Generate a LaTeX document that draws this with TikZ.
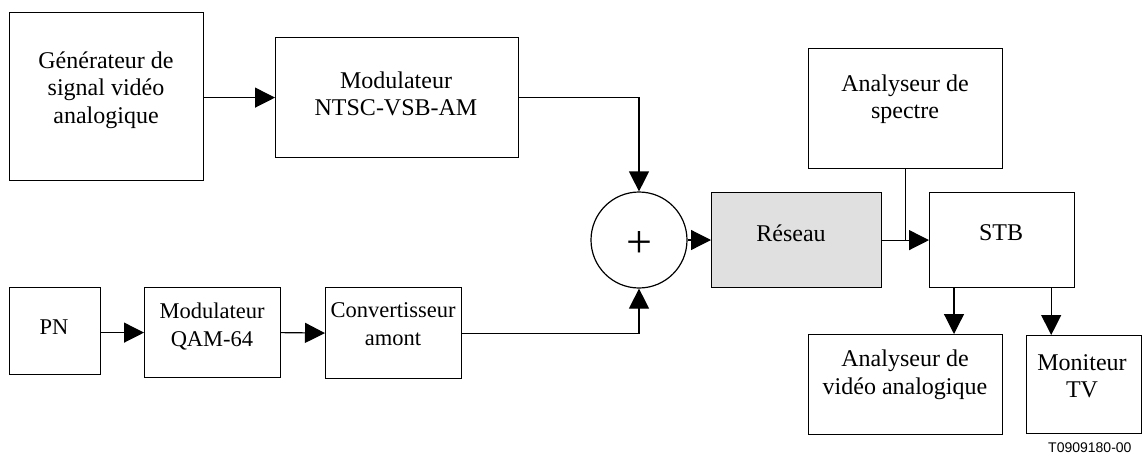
\documentclass[tikz,border=0pt]{standalone}
\usepackage{fontspec}
\setmainfont{Liberation Serif}
\newfontfamily\labelfont{Liberation Sans}
\usetikzlibrary{arrows.meta}
\tikzset{
  blk/.style={draw, line width=1.2pt, inner sep=0pt, anchor=north west},
  txt/.style={align=center, inner sep=0pt, font=\fontsize{24}{27.5}\selectfont},
  txts/.style={align=center, inner sep=0pt, font=\fontsize{22.5}{28}\selectfont},
  conn/.style={line width=1.2pt, -{Triangle[length=20pt,width=20pt]}},
  wire/.style={line width=1.2pt},
}
\begin{document}
\begin{tikzpicture}[x=1pt,y=-1pt]
\useasboundingbox (0,0) rectangle (1142,456);
% boxes
\node[blk, minimum width=194pt, minimum height=168pt] (gen) at (9,12) {};
\node[blk, minimum width=243pt, minimum height=120pt] (ntsc) at (275,37) {};
\node[blk, minimum width=91pt, minimum height=87pt] (pn) at (9,287) {};
\node[blk, minimum width=136pt, minimum height=90pt] (qam) at (144,287) {};
\node[blk, minimum width=136pt, minimum height=91pt] (conv) at (325,287) {};
\node[draw, line width=1.2pt, circle, minimum size=96pt, inner sep=0pt] (sum) at (639,240) {};
\node[blk, fill=black!12, minimum width=170pt, minimum height=95pt] (res) at (711,192) {};
\node[blk, minimum width=194pt, minimum height=120pt] (spec) at (808,48) {};
\node[blk, minimum width=145pt, minimum height=95pt] (stb) at (929,192) {};
\node[blk, minimum width=194pt, minimum height=100pt] (ana) at (808,334) {};
\node[blk, minimum width=115pt, minimum height=98pt] (mon) at (1026,335) {};
% texts
\node[txt] (genT) at (106,90) {Générateur de\\signal vidéo\\analogique};
\node[txt] (ntscT) at (396,94) {Modulateur\\NTSC-VSB-AM};
\node[txts] (pnT) at (54,327) {PN};
\node[txts] (qamT) at (212,327) {Modulateur\\QAM-64};
\node[txts] (convT) at (393,324) {Convertisseur\\amont};
\node[inner sep=0pt, font=\fontsize{46}{46}\selectfont] (plus) at (639,244) {+};
\node[txt] (resT) at (791,233) {Réseau};
\node[txt] (specT) at (905,99) {Analyseur de\\spectre};
\node[txt] (stbT) at (1001,233) {STB};
\node[txt] (anaT) at (905,375) {Analyseur de\\vidéo analogique};
\node[txt] (monT) at (1082,376) {Moniteur\\TV};
\node[anchor=base west, inner sep=0pt, font=\labelfont\fontsize{14}{14}\selectfont] (ref) at (1048,452) {T0909180-00};
% connectors
\draw[conn] (ntsc.west -| gen.east) -- (ntsc.west);
\draw[conn] (ntsc.east) -| (sum.north);
\draw[conn] (qam.west -| pn.east) -- (qam.west);
\draw[conn] (qam.east) -- (conv.west);
\draw[conn] (conv.east) -| (sum.south);
\draw[conn] (sum.east) -- (sum.east -| res.west);
\draw[conn] (res.east) -- (stb.west);
\coordinate (junc) at (spec.south |- stb.west);
\draw[wire] (spec.south) -- (junc);
\draw[conn] ([xshift=25pt]stb.south west) -- ([xshift=25pt]stb.south west |- ana.north);
\draw[conn] ([xshift=-24pt]stb.south east) -- ([xshift=-24pt]stb.south east |- mon.north);
\end{tikzpicture}
\end{document}
